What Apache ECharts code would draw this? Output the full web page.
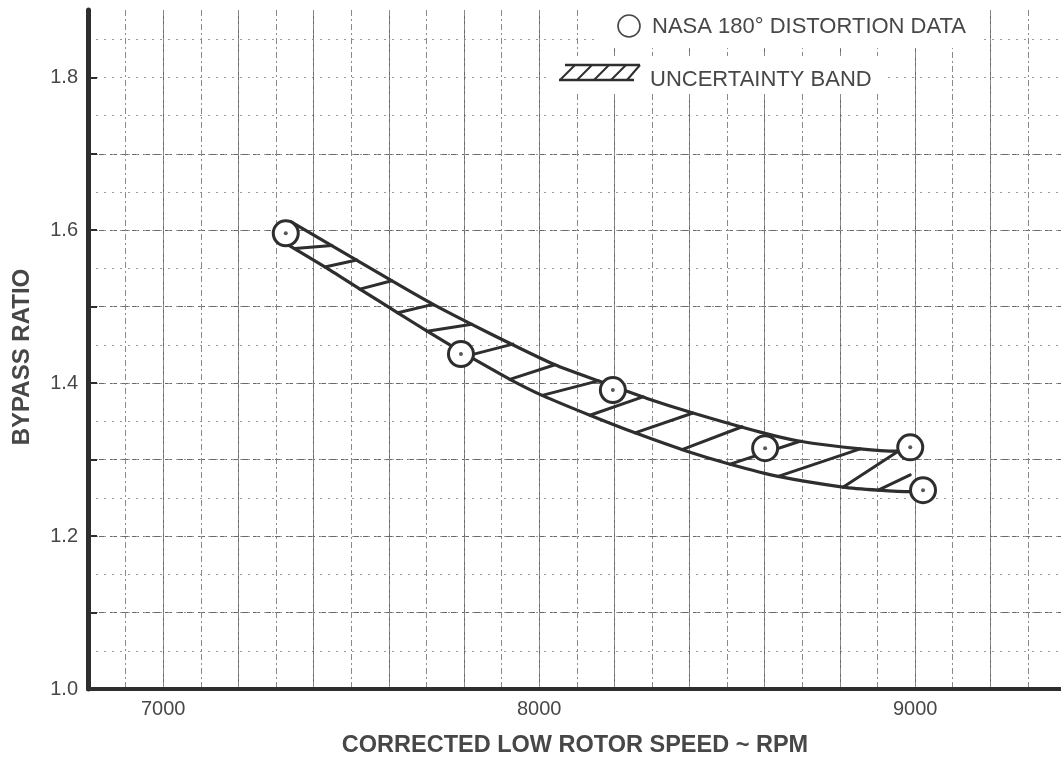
<!DOCTYPE html>
<html><head><meta charset="utf-8">
<script src="https://cdn.jsdelivr.net/npm/echarts@6/dist/echarts.min.js"></script>
<style>html,body{margin:0;padding:0;background:#fff}#c{width:1061px;height:766px}</style>
</head><body><div id="c"></div>
<script>
// ---- data ----
const xTickLabels = [7000, 8000, 9000];
const yTickLabels = [1.0, 1.2, 1.4, 1.6, 1.8];
const yTickMarks  = [1.1, 1.2, 1.3, 1.4, 1.5, 1.6, 1.7, 1.8];

const nasaRpm    = [7326, 7792, 8196, 8601, 8987, 9021];
const nasaBypass = [1.596, 1.438, 1.391, 1.315, 1.316, 1.260];

const bandUpperRpm    = [7337, 7611, 7718, 7869, 8042, 8157, 8287, 8409, 8588, 8694, 8854, 8952, 8987];
const bandUpperBypass = [1.612, 1.533, 1.503, 1.465, 1.424, 1.403, 1.380, 1.361, 1.336, 1.324, 1.314, 1.311, 1.316];

const bandLowerRpm    = [7321, 7430, 7523, 7624, 7702, 7790, 7835, 7922, 8008, 8135, 8255, 8393, 8508, 8636, 8808, 8902, 8987, 9021];
const bandLowerBypass = [1.584, 1.552, 1.523, 1.492, 1.468, 1.442, 1.429, 1.405, 1.384, 1.358, 1.335, 1.311, 1.294, 1.278, 1.264, 1.260, 1.258, 1.259];

const hatchFromRpm    = [7350, 7430, 7523, 7624, 7702, 7811, 7922, 8008, 8135, 8255, 8380, 8508, 8636, 8808, 8902];
const hatchFromBypass = [1.576, 1.552, 1.523, 1.492, 1.468, 1.436, 1.405, 1.384, 1.358, 1.335, 1.313, 1.294, 1.278, 1.264, 1.260];
const hatchToRpm      = [7449, 7515, 7608, 7718, 7821, 7930, 8042, 8157, 8276, 8409, 8540, 8694, 8854, 8955, 8987];
const hatchToBypass   = [1.580, 1.561, 1.534, 1.503, 1.477, 1.451, 1.424, 1.403, 1.382, 1.361, 1.343, 1.324, 1.314, 1.311, 1.280];

// ---- chart ----
const INK = '#2e2e2e';
const TXT = '#474747';
const FONT = '"Liberation Sans", Arial, Helvetica, sans-serif';
const X_MIN = 6800, X_MAX = 9388, Y_MIN = 1.0, Y_MAX = 1.888;

const zip = (a, b) => a.map((v, i) => [v, b[i]]);

const chart = echarts.init(document.getElementById('c'), null, {renderer: 'canvas'});

const hiddenParts = {axisLine: {show: false}, axisTick: {show: false}, axisLabel: {show: false}};

chart.setOption({
  animation: false,
  backgroundColor: '#ffffff',
  grid: {left: 88, right: 0, top: 10, bottom: 77, containLabel: false},
  xAxis: [
    {
      type: 'value', min: X_MIN, max: X_MAX, interval: 200, position: 'bottom',
      axisLine: {show: true, onZero: false, lineStyle: {color: INK, width: 4}},
      axisTick: {show: false},
      axisLabel: {
        margin: 10, fontSize: 20, color: TXT, fontFamily: FONT,
        customValues: xTickLabels,
        formatter: v => String(Math.round(v))
      },
      splitLine: {show: true, showMaxLine: false, lineStyle: {color: '#6a6a6a', width: 1}}
    },
    Object.assign({
      type: 'value', min: X_MIN, max: X_MAX, interval: 100, position: 'top',
      splitLine: {show: true, showMaxLine: false, showMinLine: false, lineStyle: {color: '#8a8a8a', width: 1, type: [6, 3, 2, 3]}}
    }, hiddenParts)
  ],
  yAxis: [
    {
      type: 'value', min: Y_MIN, max: Y_MAX, interval: 0.1,
      axisLine: {show: true, onZero: false, lineStyle: {color: INK, width: 5}},
      axisTick: {show: true, inside: true, length: 9, customValues: yTickMarks, lineStyle: {color: INK, width: 2}},
      axisLabel: {
        margin: 10, fontSize: 20, color: TXT, fontFamily: FONT,
        customValues: yTickLabels,
        formatter: v => Number(v).toFixed(1)
      },
      splitLine: {show: true, showMaxLine: false, lineStyle: {color: '#6a6a6a', width: 1, type: [7, 4]}}
    },
    Object.assign({
      type: 'value', min: Y_MIN, max: Y_MAX, interval: 0.05, position: 'right',
      splitLine: {show: true, showMaxLine: false, showMinLine: false, lineStyle: {color: '#9a9a9a', width: 1, type: [2, 6]}}
    }, hiddenParts)
  ],
  series: [
    {
      name: 'Uncertainty band (upper)', type: 'line', xAxisIndex: 0, yAxisIndex: 0,
      data: zip(bandUpperRpm, bandUpperBypass), showSymbol: false, symbol: 'none',
      smooth: 0.2,
      lineStyle: {color: INK, width: 3.2}, z: 3
    },
    {
      name: 'Uncertainty band (lower)', type: 'line', xAxisIndex: 0, yAxisIndex: 0,
      data: zip(bandLowerRpm, bandLowerBypass), showSymbol: false, symbol: 'none',
      smooth: 0.2,
      lineStyle: {color: INK, width: 3.2}, z: 3
    },
    {
      name: 'Uncertainty band (hatching)', type: 'lines', coordinateSystem: 'cartesian2d',
      xAxisIndex: 0, yAxisIndex: 0, polyline: false, symbol: 'none',
      data: hatchFromRpm.map((x, i) => ({coords: [[x, hatchFromBypass[i]], [hatchToRpm[i], hatchToBypass[i]]]})),
      lineStyle: {color: INK, width: 3, opacity: 1, curveness: 0, cap: 'round'}, z: 3
    },
    {
      name: 'NASA 180° distortion data', type: 'scatter', xAxisIndex: 0, yAxisIndex: 0,
      data: zip(nasaRpm, nasaBypass), symbol: 'circle', symbolSize: 25,
      itemStyle: {color: '#ffffff', borderColor: INK, borderWidth: 3, opacity: 1}, z: 5
    },
    {
      name: 'NASA centre dots', type: 'scatter', xAxisIndex: 0, yAxisIndex: 0,
      data: zip(nasaRpm, nasaBypass), symbol: 'circle', symbolSize: 4,
      itemStyle: {color: INK}, z: 6
    }
  ],
  graphic: [
    {type: 'rect', left: 595, top: 8, shape: {width: 385, height: 40}, style: {fill: '#fff'}, z: 10, silent: true},
    {type: 'rect', left: 552, top: 56, shape: {width: 335, height: 38}, style: {fill: '#fff'}, z: 10, silent: true},
    {type: 'circle', shape: {cx: 629, cy: 26, r: 11}, style: {fill: 'none', stroke: TXT, lineWidth: 1.6}, z: 11},
    {type: 'text', x: 652, y: 27, z: 11,
      style: {text: 'NASA 180° DISTORTION DATA', font: '22px ' + FONT, fill: TXT, verticalAlign: 'middle', align: 'left'}},
    {type: 'group', z: 11, children: [
      {type: 'line', shape: {x1: 565, y1: 65, x2: 640, y2: 65}, style: {stroke: INK, lineWidth: 2.5}, z: 11},
      {type: 'line', shape: {x1: 559, y1: 80, x2: 634, y2: 80}, style: {stroke: INK, lineWidth: 2.5}, z: 11},
      {type: 'line', shape: {x1: 560, y1: 80, x2: 575, y2: 65}, style: {stroke: INK, lineWidth: 2}, z: 11},
      {type: 'line', shape: {x1: 577, y1: 80, x2: 592, y2: 65}, style: {stroke: INK, lineWidth: 2}, z: 11},
      {type: 'line', shape: {x1: 594, y1: 80, x2: 609, y2: 65}, style: {stroke: INK, lineWidth: 2}, z: 11},
      {type: 'line', shape: {x1: 611, y1: 80, x2: 626, y2: 65}, style: {stroke: INK, lineWidth: 2}, z: 11},
      {type: 'line', shape: {x1: 627, y1: 80, x2: 640, y2: 65}, style: {stroke: INK, lineWidth: 2}, z: 11}
    ]},
    {type: 'text', x: 650, y: 80, z: 11,
      style: {text: 'UNCERTAINTY BAND', font: '22px ' + FONT, fill: TXT, verticalAlign: 'middle', align: 'left'}},
    {type: 'text', x: 575, y: 746, z: 11,
      style: {text: 'CORRECTED LOW ROTOR SPEED ~ RPM', font: 'bold 23.5px ' + FONT, fill: TXT, verticalAlign: 'middle', align: 'center'}},
    {type: 'text', x: 22, y: 357, rotation: Math.PI / 2, z: 11,
      style: {text: 'BYPASS RATIO', font: 'bold 24px ' + FONT, fill: TXT, verticalAlign: 'middle', align: 'center'}}
  ]
});
</script>
</body></html>
